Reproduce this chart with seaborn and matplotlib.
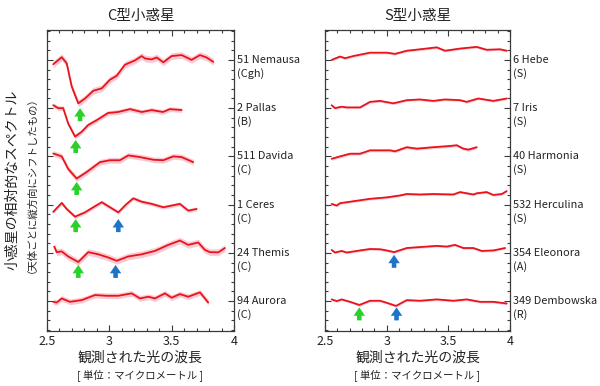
import numpy as np
import pandas as pd
import matplotlib
matplotlib.use("Agg")
import matplotlib.pyplot as plt
import seaborn as sns
from matplotlib.ticker import MultipleLocator
import matplotlib.transforms as mtransforms

sns.set_theme(style="ticks")
plt.rcParams['font.family'] = ['Noto Sans CJK JP', 'DejaVu Sans']

# ---------------- data (relative reflectance, offset units) ----------------
# C-type asteroids (top to bottom)
names_C = ["51 Nemausa", "2 Pallas", "511 Davida", "1 Ceres", "24 Themis", "94 Aurora"]
class_C = ["(Cgh)", "(B)", "(C)", "(C)", "(C)", "(C)"]
err_C = [0.07, 0.05, 0.06, 0.04, 0.07, 0.06]

wl_nemausa = [2.55, 2.618, 2.658, 2.698, 2.751, 2.805, 2.871, 2.939, 3.005, 3.059, 3.125, 3.206,
              3.259, 3.286, 3.34, 3.38, 3.433, 3.5, 3.58, 3.66, 3.727, 3.78, 3.834]
rf_nemausa = [-0.09, 0.056, -0.07, -0.55, -0.90, -0.80, -0.64, -0.59, -0.41, -0.33, -0.10, -0.01,
              0.08, 0.03, 0.01, 0.05, -0.05, 0.08, 0.10, 0.0, 0.10, 0.05, -0.04]

wl_pallas = [2.55, 2.59, 2.63, 2.67, 2.725, 2.778, 2.83, 2.898, 2.99, 3.07, 3.166, 3.26, 3.34,
             3.43, 3.486, 3.58]
rf_pallas = [0.06, 0.0, 0.0, -0.32, -0.59, -0.49, -0.35, -0.25, -0.10, -0.08, -0.02, -0.08, -0.04,
             -0.08, -0.02, -0.04]

wl_davida = [2.55, 2.618, 2.67, 2.738, 2.818, 2.925, 3.005, 3.085, 3.152, 3.246, 3.353, 3.433,
             3.513, 3.58, 3.673]
rf_davida = [0.06, 0.0, -0.26, -0.46, -0.325, -0.12, -0.08, -0.08, 0.02, -0.015, -0.07, -0.08,
             0.0, -0.015, -0.12]

wl_ceres = [2.55, 2.618, 2.658, 2.725, 2.805, 2.871, 2.939, 3.005, 3.072, 3.139, 3.192, 3.26,
            3.34, 3.433, 3.5, 3.566, 3.633, 3.70]
rf_ceres = [-0.15, 0.035, -0.09, -0.25, -0.16, -0.055, 0.05, -0.055, -0.16, 0.015, 0.13, 0.06,
            0.015, -0.055, -0.02, 0.015, -0.125, -0.09]

wl_themis = [2.558, 2.578, 2.618, 2.67, 2.751, 2.831, 2.911, 2.99, 3.059, 3.152, 3.26, 3.366,
             3.473, 3.566, 3.633, 3.713, 3.767, 3.807, 3.874, 3.927]
rf_themis = [0.13, 0.015, 0.03, -0.075, -0.19, 0.015, -0.03, -0.095, -0.165, -0.075, -0.03, 0.04,
             0.165, 0.255, 0.165, 0.215, 0.06, 0.015, 0.01, 0.10]

wl_aurora = [2.55, 2.578, 2.618, 2.684, 2.778, 2.885, 2.979, 3.072, 3.179, 3.246, 3.313, 3.366,
             3.446, 3.5, 3.566, 3.633, 3.727, 3.767, 3.793]
rf_aurora = [-0.015, -0.03, 0.055, -0.015, 0.02, 0.125, 0.11, 0.11, 0.16, 0.055, 0.09, 0.055,
             0.16, 0.07, 0.145, 0.09, 0.18, 0.055, -0.03]

# S-type and other asteroids (top to bottom)
names_S = ["6 Hebe", "7 Iris", "40 Harmonia", "532 Herculina", "354 Eleonora", "349 Dembowska"]
class_S = ["(S)", "(S)", "(S)", "(S)", "(A)", "(R)"]
err_S = [0.025, 0.025, 0.03, 0.025, 0.025, 0.025]

wl_hebe = [2.554, 2.622, 2.662, 2.73, 2.865, 3.0, 3.068, 3.163, 3.27, 3.406, 3.473, 3.595, 3.73,
           3.81, 3.919, 3.973]
rf_hebe = [0.0, 0.07, 0.035, 0.08, 0.15, 0.15, 0.125, 0.19, 0.22, 0.26, 0.19, 0.235, 0.27, 0.21,
           0.22, 0.19]

wl_iris = [2.554, 2.581, 2.635, 2.676, 2.784, 2.865, 2.946, 3.054, 3.163, 3.27, 3.378, 3.473,
           3.595, 3.649, 3.743, 3.865, 3.973]
rf_iris = [0.06, 0.0, 0.03, 0.015, 0.015, 0.13, 0.15, 0.10, 0.165, 0.18, 0.15, 0.18, 0.165, 0.13,
           0.20, 0.15, 0.20]

wl_harmonia = [2.554, 2.622, 2.703, 2.784, 2.865, 3.027, 3.068, 3.163, 3.244, 3.378, 3.487, 3.568,
               3.622, 3.662, 3.73]
rf_harmonia = [-0.05, 0.0, 0.055, 0.055, 0.125, 0.125, 0.105, 0.19, 0.16, 0.19, 0.21, 0.23, 0.16,
               0.14, 0.19]

wl_herculina = [2.554, 2.595, 2.622, 2.73, 2.865, 3.0, 3.108, 3.163, 3.27, 3.378, 3.541, 3.595,
                3.703, 3.73, 3.81, 3.865, 3.933, 3.973]
rf_herculina = [0.015, -0.02, 0.03, 0.07, 0.12, 0.15, 0.19, 0.22, 0.21, 0.22, 0.21, 0.26, 0.21,
                0.235, 0.26, 0.20, 0.22, 0.28]

wl_eleonora = [2.554, 2.581, 2.635, 2.676, 2.784, 2.865, 2.946, 3.0, 3.06, 3.163, 3.27, 3.406,
               3.487, 3.554, 3.622, 3.703, 3.77, 3.865, 3.96]
rf_eleonora = [0.06, 0.007, 0.04, 0.007, 0.05, 0.08, 0.075, 0.05, 0.015, 0.10, 0.12, 0.145, 0.13,
               0.165, 0.10, 0.10, 0.04, 0.05, 0.10]

wl_dembowska = [2.554, 2.595, 2.635, 2.703, 2.778, 2.865, 2.946, 3.0, 3.076, 3.163, 3.27, 3.406,
                3.541, 3.649, 3.757, 3.865, 3.973]
rf_dembowska = [0.035, 0.0, 0.035, -0.015, -0.08, 0.007, 0.007, -0.035, -0.10, 0.02, 0.007, 0.035,
                0.007, 0.035, -0.015, -0.015, -0.05]

series_C = [(wl_nemausa, rf_nemausa), (wl_pallas, rf_pallas), (wl_davida, rf_davida),
            (wl_ceres, rf_ceres), (wl_themis, rf_themis), (wl_aurora, rf_aurora)]
series_S = [(wl_hebe, rf_hebe), (wl_iris, rf_iris), (wl_harmonia, rf_harmonia),
            (wl_herculina, rf_herculina), (wl_eleonora, rf_eleonora), (wl_dembowska, rf_dembowska)]

# absorption-band arrows: row index (0 = top), wavelength, colour key, tip level (relative)
arrow_C_row = [0, 1, 2, 3, 3, 4, 4]
arrow_C_wl = [2.765, 2.73, 2.738, 2.73, 3.072, 2.751, 3.05]
arrow_C_kind = ["g", "g", "g", "g", "b", "g", "b"]
arrow_C_tip = [-1.00, -0.66, -0.53, -0.30, -0.30, -0.25, -0.25]

arrow_S_row = [4, 5, 5]
arrow_S_wl = [3.06, 2.778, 3.08]
arrow_S_kind = ["b", "g", "b"]
arrow_S_tip = [-0.04, -0.13, -0.13]

xticks = [2.5, 3, 3.5, 4]
xtick_labels = ["2.5", "3", "3.5", "4"]

# ---------------- styling ----------------
RED = "#e8141c"
PINK = "#f7a8b8"
ARROW_COL = {"g": "#2bd02b", "b": "#1f74c8"}
SPINE = "#3a3a3a"
TXT = "#222222"

fig = plt.figure(figsize=(6, 3.86), dpi=100)
axC = fig.add_axes([47 / 600, 1 - 331 / 386, 187 / 600, 301 / 386])
axS = fig.add_axes([325 / 600, 1 - 331 / 386, 185 / 600, 301 / 386])


def draw_panel(ax, series, names, classes, errs, a_row, a_wl, a_kind, a_tip, title):
    n = len(series)
    for i, (wl, rf) in enumerate(series):
        off = n - 1 - i
        df = pd.DataFrame({"wl": wl, "y": np.array(rf) + off})
        ax.fill_between(df["wl"], df["y"] - errs[i], df["y"] + errs[i],
                        color=PINK, alpha=0.6, lw=0, zorder=1)
        sns.lineplot(data=df, x="wl", y="y", ax=ax, color=RED, lw=1.3, zorder=3)
    for r, w, k, t in zip(a_row, a_wl, a_kind, a_tip):
        off = n - 1 - r
        ax.annotate("", xy=(w, off + t), xytext=(w, off + t - 0.27),
                    arrowprops=dict(arrowstyle="simple,head_length=0.55,head_width=0.75,tail_width=0.3",
                                    color=ARROW_COL[k], lw=0, shrinkA=0, shrinkB=0,
                                    mutation_scale=11), zorder=4)
    ax.set_xlim(2.5, 4.0)
    ax.set_ylim(-0.62, 5.62)
    ax.set_xticks(xticks)
    ax.set_xticklabels(xtick_labels)
    ax.xaxis.set_minor_locator(MultipleLocator(0.1))
    ax.set_yticks(range(n))
    ax.set_yticklabels([])
    ax.yaxis.set_minor_locator(MultipleLocator(0.2))
    ax.tick_params(axis="both", which="both", direction="in", color=SPINE,
                   top=True, right=True, left=True, bottom=True, width=0.8)
    ax.tick_params(axis="both", which="major", length=4.5, labelsize=9, pad=3,
                   labelcolor=TXT)
    ax.tick_params(axis="both", which="minor", length=2.5)
    for s in ax.spines.values():
        s.set_color(SPINE)
        s.set_linewidth(0.9)
    ax.set_xlabel("")
    ax.set_ylabel("")
    trans = mtransforms.blended_transform_factory(ax.transAxes, ax.transData)
    for i in range(n):
        off = n - 1 - i
        ax.text(1.014, off, names[i], transform=trans, ha="left", va="center",
                fontsize=7.9, color=TXT)
        ax.text(1.014, off - 0.28, classes[i], transform=trans, ha="left", va="center",
                fontsize=7.9, color=TXT)
    ax.set_title(title, fontsize=10.5, pad=7, color=TXT)
    ax.text(0.5, -0.09, "観測された光の波長", transform=ax.transAxes, ha="center",
            va="center", fontsize=10, color=TXT)
    ax.text(0.5, -0.146, "[ 単位：マイクロメートル ]", transform=ax.transAxes, ha="center",
            va="center", fontsize=7.5, color=TXT)


draw_panel(axC, series_C, names_C, class_C, err_C, arrow_C_row, arrow_C_wl, arrow_C_kind,
           arrow_C_tip, "C型小惑星")
draw_panel(axS, series_S, names_S, class_S, err_S, arrow_S_row, arrow_S_wl, arrow_S_kind,
           arrow_S_tip, "S型小惑星")

fig.text(12 / 600, 1 - 180 / 386, "小惑星の相対的なスペクトル", rotation=90, ha="center",
         va="center", fontsize=10, color=TXT)
fig.text(27 / 600, 1 - 180 / 386, "（天体ごとに縦方向にシフトしたもの）", rotation=90,
         ha="center", va="center", fontsize=7.5, color=TXT)

fig.savefig("out.png", dpi=100)
